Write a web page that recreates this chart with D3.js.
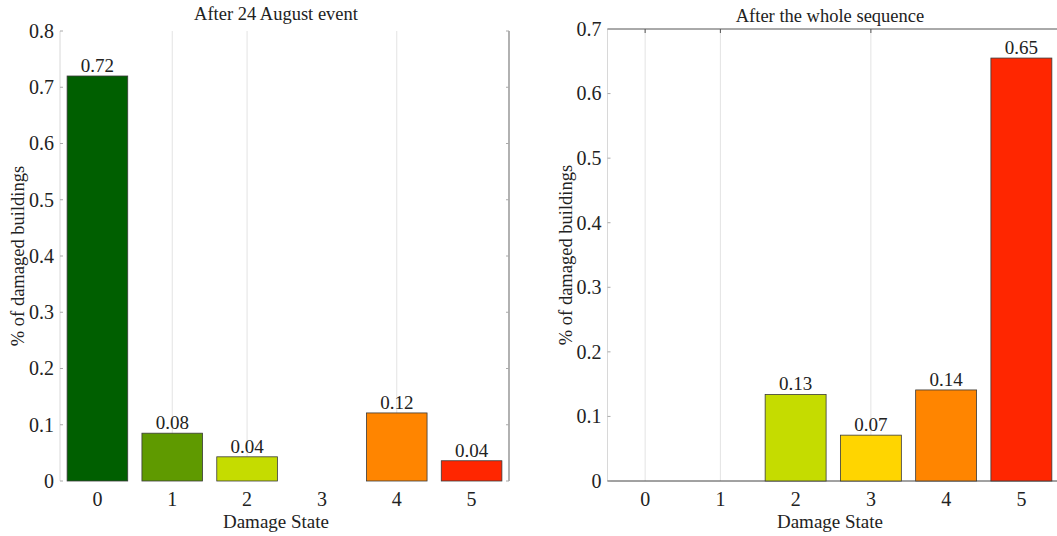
<!DOCTYPE html>
<html><head><meta charset="utf-8">
<script src="https://cdn.jsdelivr.net/npm/d3@7"></script>
<style>body{margin:0;background:#fff}svg{display:block}</style>
</head><body><svg id="c" width="1057" height="536"></svg>
<script>
const categories = ["0","1","2","3","4","5"];
const colors = ["#005f00","#5f9a00","#c5dc00","#ffd500","#ff8500","#ff2600"];
const leftValues = [0.72, 0.085, 0.043, 0, 0.121, 0.036];
const leftLabels = ["0.72","0.08","0.04","","0.12","0.04"];
const rightValues = [0, 0, 0.134, 0.071, 0.141, 0.655];
const rightLabels = ["","","0.13","0.07","0.14","0.65"];
const leftTicks = [0,0.1,0.2,0.3,0.4,0.5,0.6,0.7,0.8];
const rightTicks = [0,0.1,0.2,0.3,0.4,0.5,0.6,0.7];
const leftGrid = ["1","2","4"];
const rightGrid = ["0","1","3"];

const svg = d3.select("#c");
const FF = "Liberation Serif, Times New Roman, Times, DejaVu Serif, serif";

function panel(o){
  const g = svg.append("g");
  const x = d3.scaleBand().domain(categories).range([o.x0,o.x1]).paddingInner(0.19).paddingOuter(0.095);
  const y = d3.scaleLinear().domain([0,o.max]).range([o.yb,o.yt]);
  g.selectAll(".grid").data(o.grid).join("line")
    .attr("x1",d=>x(d)+x.bandwidth()/2).attr("x2",d=>x(d)+x.bandwidth()/2)
    .attr("y1",o.yt).attr("y2",o.yb).attr("stroke","#e3e3e3").attr("stroke-width",1);
  g.append("line").attr("x1",o.x0).attr("x2",o.x0).attr("y1",o.yt).attr("y2",o.yb).attr("stroke","#d8d8d8");
  if(o.rightLine){
    g.append("line").attr("x1",o.x1).attr("x2",o.x1).attr("y1",o.yt).attr("y2",o.yb).attr("stroke","#888").attr("stroke-width",1.3);
    g.selectAll(".rt").data(o.ticks).join("line")
      .attr("x1",o.x1-3).attr("x2",o.x1).attr("y1",d=>y(d)).attr("y2",d=>y(d)).attr("stroke","#aaa");
  }
  if(o.boxLines){
    g.append("line").attr("x1",o.x0).attr("x2",1057).attr("y1",o.yt).attr("y2",o.yt).attr("stroke","#555");
    g.append("line").attr("x1",o.x0).attr("x2",1057).attr("y1",o.yb).attr("y2",o.yb).attr("stroke","#444");
    g.selectAll(".tt").data(o.grid).join("line")
      .attr("x1",d=>x(d)+x.bandwidth()/2).attr("x2",d=>x(d)+x.bandwidth()/2)
      .attr("y1",o.yt).attr("y2",o.yt+4).attr("stroke","#555");
  }
  const ya = d3.axisLeft(y).tickValues(o.ticks).tickFormat(d=>d===0?"0":d3.format(".1f")(d)).tickSize(0).tickPadding(6);
  const yg = g.append("g").attr("transform",`translate(${o.x0},0)`).call(ya);
  yg.select(".domain").remove();
  yg.selectAll("text").style("font-size","20px").style("font-family",FF).attr("fill","#222");
  g.selectAll(".yt").data(o.ticks).join("line")
    .attr("x1",o.x0).attr("x2",o.x0+3).attr("y1",d=>y(d)).attr("y2",d=>y(d)).attr("stroke","#aaa");
  const xa = d3.axisBottom(x).tickSize(0).tickPadding(11);
  const xg = g.append("g").attr("transform",`translate(0,${o.yb})`).call(xa);
  xg.select(".domain").remove();
  xg.selectAll("text").style("font-size","20px").style("font-family",FF).attr("fill","#222");
  g.selectAll(".bar").data(o.values).join("rect")
    .attr("x",(d,i)=>x(categories[i])).attr("width",x.bandwidth())
    .attr("y",d=>y(d)).attr("height",d=>o.yb-y(d))
    .attr("fill",(d,i)=>colors[i]).attr("stroke",(d)=>d>0?"#3a3a3a":"none").attr("stroke-width",0.8);
  g.selectAll(".vl").data(o.values).join("text")
    .attr("x",(d,i)=>x(categories[i])+x.bandwidth()/2).attr("y",d=>y(d)-4)
    .attr("text-anchor","middle").style("font-size","19px").style("font-family",FF).attr("fill","#222").text((d,i)=>o.labels[i]);
  g.append("text").attr("x",o.titleX).attr("y",o.titleY).attr("text-anchor","middle").style("font-size","18.5px").style("font-family",FF).attr("fill","#222").text(o.title);
  g.append("text").attr("x",o.titleX).attr("y",528).attr("text-anchor","middle").style("font-size","19px").style("font-family",FF).attr("fill","#222").text("Damage State");
  g.append("text").attr("transform",`translate(${o.x0-36},${(o.yt+o.yb)/2}) rotate(-90)`).attr("text-anchor","middle").style("font-size","18.5px").style("font-family",FF).attr("fill","#222").text("% of damaged buildings");
}

panel({x0:60,x1:509,yt:31,yb:481,max:0.8,ticks:leftTicks,values:leftValues,labels:leftLabels,grid:leftGrid,rightLine:true,boxLines:false,title:"After 24 August event",titleX:276,titleY:20});
panel({x0:607.5,x1:1059,yt:29,yb:481,max:0.7,ticks:rightTicks,values:rightValues,labels:rightLabels,grid:rightGrid,rightLine:false,boxLines:true,title:"After the whole sequence",titleX:830,titleY:22});
</script></body></html>
